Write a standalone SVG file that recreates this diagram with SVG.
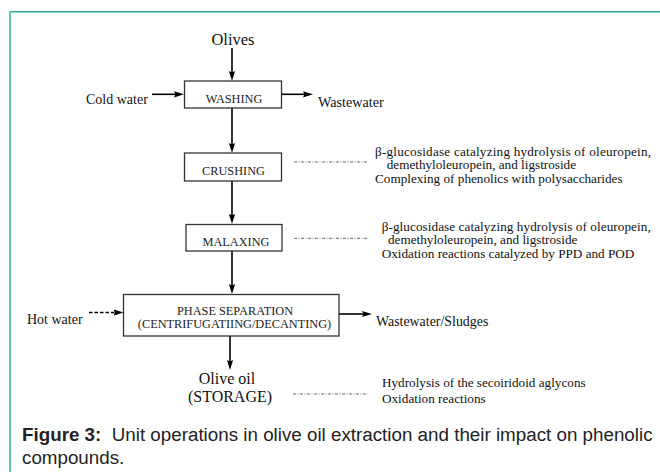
<svg xmlns="http://www.w3.org/2000/svg" width="660" height="472" viewBox="0 0 660 472">
<style>
.lbl{font-family:"Liberation Serif","Times New Roman",serif;fill:#111;}
.box{fill:#fff;stroke:#333;stroke-width:1.3;}
.bt{font-family:"Liberation Serif","Times New Roman",serif;font-size:12.3px;fill:#222;text-anchor:middle;}
.side{font-family:"Liberation Serif","Times New Roman",serif;font-size:13.2px;fill:#111;}
.cap{font-family:"Liberation Sans",Arial,sans-serif;font-size:18.8px;fill:#222;}
.ar{stroke:#000;stroke-width:1.6;fill:none;marker-end:url(#ah);}
.dd{stroke:#444;stroke-width:0.8;stroke-dasharray:3 1.5 1 1.5;fill:none;}
</style>
<defs>
<marker id="ah" markerUnits="userSpaceOnUse" markerWidth="10" markerHeight="8" viewBox="0 0 10 8" refX="4" refY="4" orient="auto">
<path d="M0,0.9 L10,4 L0,7.1 L1.5,4 z" fill="#000"/>
</marker>
</defs>
<g id="frame">
<line x1="9" y1="11.75" x2="660" y2="11.75" stroke="#2aa58f" stroke-width="1.5"/>
<line x1="10" y1="11" x2="10" y2="472" stroke="#5cc9b5" stroke-width="2"/>
</g>
<g id="connectors">
<line class="ar" x1="232" y1="48" x2="232" y2="75"/>
<line class="ar" x1="152" y1="94.3" x2="178" y2="94.3"/>
<line class="ar" x1="281.5" y1="94.3" x2="307" y2="94.3"/>
<line class="ar" x1="232" y1="108" x2="232" y2="147"/>
<line class="ar" x1="232" y1="181" x2="232" y2="218"/>
<line class="ar" x1="232" y1="251" x2="232" y2="288"/>
<line class="ar" x1="89" y1="312.5" x2="117.5" y2="312.5" stroke-dasharray="3.5 2" stroke-width="2"/>
<line class="ar" x1="339" y1="314" x2="366" y2="314"/>
<line class="ar" x1="230" y1="336" x2="230" y2="364"/>
<line class="dd" x1="294" y1="162" x2="368" y2="162"/>
<line class="dd" x1="294" y1="238.3" x2="368" y2="238.3"/>
<line class="dd" x1="293" y1="394" x2="368" y2="394"/>
</g>
<g id="olives"><text class="lbl" x="233" y="45" font-size="16.5" text-anchor="middle">Olives</text></g>
<g id="coldwater"><text class="lbl" x="86" y="104.3" font-size="14">Cold water</text></g>
<g id="washing">
<rect class="box" x="184.5" y="81" width="97" height="27"/>
<text class="bt" x="234" y="102.5">WASHING</text>
</g>
<g id="wastewater"><text class="lbl" x="318" y="106.5" font-size="14.2">Wastewater</text></g>
<g id="crushing">
<rect class="box" x="184.5" y="153" width="97" height="28"/>
<text class="bt" x="233.5" y="175">CRUSHING</text>
</g>
<g id="crushing-notes">
<text class="side" x="375" y="155.5" textLength="276" lengthAdjust="spacing">β-glucosidase catalyzing hydrolysis of oleuropein,</text>
<text class="side" x="386.7" y="169">demethyloleuropein, and ligstroside</text>
<text class="side" x="375" y="182.5">Complexing of phenolics with polysaccharides</text>
</g>
<g id="malaxing">
<rect class="box" x="186" y="224.5" width="96" height="26.5"/>
<text class="bt" x="236" y="245.5">MALAXING</text>
</g>
<g id="malaxing-notes">
<text class="side" x="381.7" y="230.5" textLength="269" lengthAdjust="spacing">β-glucosidase catalyzing hydrolysis of oleuropein,</text>
<text class="side" x="388" y="244">demethyloleuropein, and ligstroside</text>
<text class="side" x="381.7" y="257.5">Oxidation reactions catalyzed by PPD and POD</text>
</g>
<g id="hotwater"><text class="lbl" x="27" y="323.5" font-size="14">Hot water</text></g>
<g id="phase-separation">
<rect class="box" x="123.5" y="294.5" width="215.5" height="41.5"/>
<text class="bt" x="235" y="315">PHASE SEPARATION</text>
<text class="bt" x="234.5" y="327.7">(CENTRIFUGATIING/DECANTING)</text>
</g>
<g id="sludges"><text class="lbl" x="376" y="325.5" font-size="13.9">Wastewater/Sludges</text></g>
<g id="olive-oil">
<text class="lbl" x="227" y="384" font-size="16" text-anchor="middle">Olive oil</text>
<text class="lbl" x="230" y="401.7" font-size="16" text-anchor="middle">(STORAGE)</text>
</g>
<g id="storage-notes">
<text class="side" x="382" y="387">Hydrolysis of the secoiridoid aglycons</text>
<text class="side" x="382" y="403">Oxidation reactions</text>
</g>
<g id="caption">
<text class="cap" x="22" y="441" xml:space="preserve"><tspan font-weight="bold">Figure 3:</tspan>  Unit operations in olive oil extraction and their impact on phenolic</text>
<text class="cap" x="22" y="464">compounds.</text>
</g>
</svg>
